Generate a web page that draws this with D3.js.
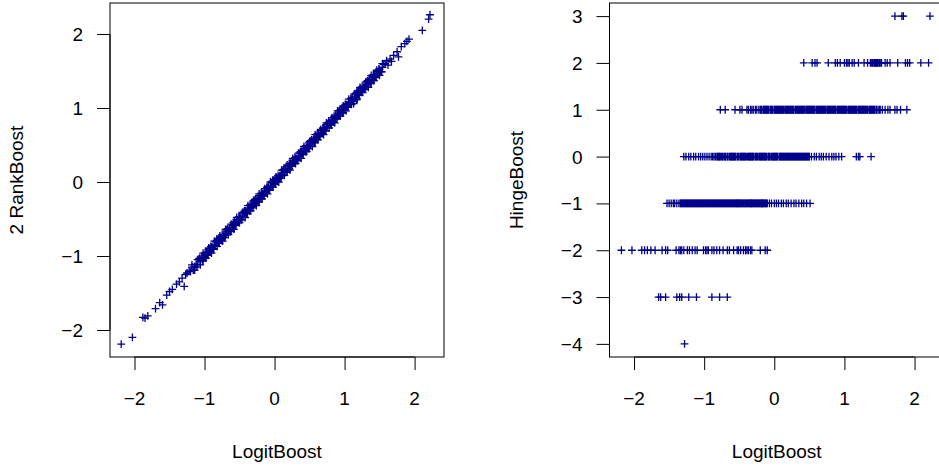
<!DOCTYPE html>
<html lang="en">
<head>
<meta charset="utf-8">
<script src="https://d3js.org/d3.v7.min.js"></script>
<style>
  body { margin: 0; background: #fff; }
  text { font-family: "Liberation Sans", Arial, Helvetica, sans-serif; font-size: 19px; fill: #000; }
  .pt { stroke: darkblue; stroke-width: 1.3; fill: none; }
  .frame { fill: none; stroke: #000; stroke-width: 1; }
  .tick line, .axisline { stroke: #000; stroke-width: 1; }
</style>
</head>
<body>
<svg id="chart" width="939" height="470"></svg>
<script>
// ---- left panel: LogitBoost vs 2 RankBoost ----
const logitLeft = [
  -2.19, -2.03, -1.88, -1.85, -1.81, -1.70, -1.64, -1.60, -1.54, -1.50, -1.46, -1.40, -1.36, -1.29, -1.32, -1.27, -1.25,
  -1.22, -1.20, -1.18, -1.16, -1.14, -1.12, -1.10, -1.08, -1.06, -1.04, -1.02, -1.00, -0.98, -0.96, -0.94, -0.92,
  -0.90, -0.88, -0.86, -0.84, -0.82, -0.80, -0.78, -0.76, -0.74, -0.72, -0.70, -0.68, -0.66, -0.64, -0.62, -0.60,
  -0.58, -0.56, -0.54, -0.52, -0.50, -0.48, -0.46, -0.44, -0.42, -0.40, -0.38, -0.36, -0.34, -0.32, -0.30, -0.28,
  -0.26, -0.24, -0.22, -0.20, -0.18, -0.16, -0.14, -0.12, -0.10, -0.08, -0.06, -0.04, -0.02, 0.00, 0.02, 0.04,
  0.06, 0.08, 0.10, 0.12, 0.14, 0.16, 0.18, 0.20, 0.22, 0.24, 0.26, 0.28, 0.30, 0.32, 0.34, 0.36,
  0.38, 0.40, 0.42, 0.44, 0.46, 0.48, 0.50, 0.52, 0.54, 0.56, 0.58, 0.60, 0.62, 0.64, 0.66, 0.68,
  0.70, 0.72, 0.74, 0.76, 0.78, 0.80, 0.82, 0.84, 0.86, 0.88, 0.90, 0.92, 0.94, 0.96, 0.98, 1.00,
  1.02, 1.04, 1.06, 1.08, 1.10, 1.12, 1.14, 1.16, 1.18, 1.20, 1.22, 1.24, 1.26, 1.28, 1.30, 1.32,
  1.34, 1.36, 1.38, 1.40, 1.42, 1.44, 1.46, 1.48, 1.50, 1.52, 1.54, 1.56, 1.58,
  -0.99, -0.93, -0.87, -0.81, -0.75, -0.69, -0.63, -0.57, -0.51, -0.45, -0.39, -0.33, -0.27, -0.21, -0.15, -0.09,
  -0.03, 0.03, 0.09, 0.15, 0.21, 0.27, 0.33, 0.39, 0.45, 0.51, 0.57, 0.63, 0.69, 0.75, 0.81, 0.87,
  0.93, 0.99, 1.05, 1.11, 1.17, 1.23, 1.29, 1.35,
  -1.11, -1.07, -1.03, -0.99, -0.95, -0.91, -0.87, -0.83, -0.79, -0.75, -0.71, -0.67, -0.63, -0.59, -0.55, -0.51,
  -0.47, -0.43, -0.39, -0.35, -0.31, -0.27, -0.23, -0.19, -0.15, -0.11, -0.07, -0.03, 0.01, 0.05, 0.09, 0.13,
  0.17, 0.21, 0.25, 0.29, 0.33, 0.37, 0.41, 0.45, 0.49, 0.53, 0.57, 0.61, 0.65, 0.69, 0.73, 0.77,
  0.81, 0.85, 0.89, 0.93, 0.97, 1.01, 1.05, 1.09, 1.13, 1.17, 1.21, 1.25, 1.29, 1.33, 1.37, 1.41,
  1.45, 1.49, 1.53,
  -1.18, -1.14, -1.10, -1.06, -1.02, -0.98, -0.94, -0.90, -0.86, -0.82, -0.78, -0.74, -0.70, -0.66, -0.62, -0.58,
  -0.54, -0.50, -0.46, -0.42, -0.38, -0.34, -0.30, -0.26, -0.22, -0.18, -0.14, -0.10, -0.06, -0.02, 0.02, 0.06,
  0.10, 0.14, 0.18, 0.22, 0.26, 0.30, 0.34, 0.38, 0.42, 0.46, 0.50, 0.54, 0.58, 0.62, 0.66, 0.70,
  0.74, 0.78, 0.82, 0.86, 0.90, 0.94, 0.98, 1.02, 1.06, 1.10, 1.14, 1.18, 1.22, 1.26, 1.30, 1.34,
  1.38, 1.42, 1.46, 1.50, 1.54,
  -1.05, -1.01, -0.97, -0.93, -0.89, -0.85, -0.81, -0.77, -0.73, -0.69, -0.65, -0.61, -0.57, -0.53, -0.49, -0.45,
  -0.41, -0.37, -0.33, -0.29, -0.25, -0.21, -0.17, -0.13, -0.09, -0.05, -0.01, 0.03, 0.07, 0.11, 0.15, 0.19,
  0.23, 0.27, 0.31, 0.35, 0.39, 0.43, 0.47, 0.51, 0.55, 0.59, 0.63, 0.67, 0.71, 0.75, 0.79, 0.83,
  0.87, 0.91, 0.95, 0.99, 1.03, 1.07, 1.11, 1.15, 1.19, 1.23, 1.27, 1.31, 1.35, 1.39, 1.43, 1.47,
  1.13, 1.17, 1.41, 1.60, 1.62, 1.65, 1.67, 1.70, 1.75, 1.77, 1.81, 1.86, 1.92, 1.89, 2.11, 2.20, 2.22
];
const rankBoost = [
  -2.19, -2.10, -1.83, -1.84, -1.81, -1.71, -1.63, -1.66, -1.53, -1.48, -1.45, -1.38, -1.35, -1.41, -1.30, -1.25, -1.23,
  -1.20, -1.21, -1.15, -1.19, -1.14, -1.11, -1.12, -1.04, -1.07, -1.02, -1.06, -0.99, -0.98, -0.98, -0.91, -0.93,
  -0.88, -0.91, -0.85, -0.81, -0.80, -0.81, -0.75, -0.79, -0.74, -0.71, -0.72, -0.64, -0.67, -0.62, -0.66, -0.59,
  -0.58, -0.58, -0.51, -0.53, -0.48, -0.51, -0.45, -0.41, -0.40, -0.41, -0.35, -0.39, -0.34, -0.31, -0.32, -0.24,
  -0.27, -0.22, -0.26, -0.19, -0.18, -0.18, -0.11, -0.13, -0.08, -0.11, -0.05, -0.01, 0.00, -0.01, 0.05, 0.01,
  0.06, 0.09, 0.08, 0.16, 0.13, 0.18, 0.14, 0.21, 0.22, 0.22, 0.29, 0.27, 0.32, 0.29, 0.35, 0.39,
  0.40, 0.39, 0.45, 0.41, 0.46, 0.49, 0.48, 0.56, 0.53, 0.58, 0.54, 0.61, 0.62, 0.62, 0.69, 0.67,
  0.72, 0.69, 0.75, 0.79, 0.80, 0.79, 0.85, 0.81, 0.86, 0.89, 0.88, 0.96, 0.93, 0.98, 0.94, 1.01,
  1.02, 1.02, 1.09, 1.07, 1.12, 1.09, 1.15, 1.19, 1.20, 1.19, 1.25, 1.21, 1.26, 1.29, 1.28, 1.36,
  1.33, 1.38, 1.34, 1.41, 1.42, 1.42, 1.49, 1.47, 1.52, 1.49, 1.55, 1.59, 1.60,
  -1.02, -0.90, -0.90, -0.78, -0.77, -0.66, -0.66, -0.54, -0.53, -0.42, -0.42, -0.30, -0.29, -0.18, -0.17, -0.06,
  -0.05, 0.06, 0.07, 0.18, 0.18, 0.30, 0.31, 0.42, 0.42, 0.54, 0.55, 0.66, 0.66, 0.78, 0.79, 0.90,
  0.90, 1.02, 1.03, 1.14, 1.14, 1.26, 1.27, 1.38,
  -1.15, -1.03, -1.07, -0.95, -0.99, -0.87, -0.91, -0.79, -0.83, -0.71, -0.75, -0.63, -0.67, -0.55, -0.59, -0.47,
  -0.51, -0.39, -0.43, -0.31, -0.35, -0.23, -0.27, -0.15, -0.19, -0.07, -0.11, 0.01, -0.03, 0.09, 0.05, 0.17,
  0.13, 0.25, 0.21, 0.33, 0.29, 0.41, 0.37, 0.49, 0.45, 0.57, 0.53, 0.65, 0.61, 0.73, 0.69, 0.81,
  0.77, 0.89, 0.85, 0.97, 0.93, 1.05, 1.01, 1.13, 1.09, 1.21, 1.17, 1.29, 1.25, 1.37, 1.33, 1.45,
  1.41, 1.53, 1.49,
  -1.12, -1.19, -1.05, -1.12, -0.96, -1.03, -0.89, -0.96, -0.80, -0.87, -0.73, -0.80, -0.64, -0.71, -0.57, -0.64,
  -0.48, -0.55, -0.41, -0.48, -0.32, -0.39, -0.25, -0.32, -0.16, -0.23, -0.09, -0.16, 0.00, -0.07, 0.07, 0.00,
  0.16, 0.09, 0.23, 0.16, 0.32, 0.25, 0.39, 0.32, 0.48, 0.41, 0.55, 0.48, 0.64, 0.57, 0.71, 0.64,
  0.80, 0.73, 0.87, 0.80, 0.96, 0.89, 1.03, 0.96, 1.12, 1.05, 1.19, 1.12, 1.28, 1.21, 1.35, 1.28,
  1.44, 1.37, 1.51, 1.44, 1.60,
  -1.04, -1.02, -0.96, -0.94, -0.88, -0.86, -0.80, -0.78, -0.72, -0.70, -0.64, -0.62, -0.56, -0.54, -0.48, -0.46,
  -0.40, -0.38, -0.32, -0.30, -0.24, -0.22, -0.16, -0.14, -0.08, -0.06, 0.00, 0.02, 0.08, 0.10, 0.16, 0.18,
  0.24, 0.26, 0.32, 0.34, 0.40, 0.42, 0.48, 0.50, 0.56, 0.58, 0.64, 0.66, 0.72, 0.74, 0.80, 0.82,
  0.88, 0.90, 0.96, 0.98, 1.04, 1.06, 1.12, 1.14, 1.20, 1.22, 1.28, 1.30, 1.36, 1.38, 1.44, 1.46,
  1.06, 1.11, 1.38, 1.64, 1.58, 1.66, 1.63, 1.71, 1.76, 1.69, 1.83, 1.87, 1.93, 1.90, 2.05, 2.20, 2.26
];

// ---- right panel: LogitBoost values grouped by HingeBoost level ----
const hingeLevels = [3, 2, 1, 0, -1, -2, -3, -4];
const hingePlus3 = [1.72, 1.82, 1.84, 2.22];
const hingePlus2 = [0.42, 0.54, 0.58, 0.61, 0.77, 0.87, 0.90, 0.94, 1.00, 1.03, 1.05, 1.07, 1.11, 1.14, 1.20,
  1.28, 1.33, 1.37, 1.39, 1.40, 1.42, 1.43, 1.44, 1.45, 1.46, 1.47, 1.49, 1.50, 1.51, 1.53, 1.58, 1.61, 1.65,
  1.76, 1.87, 1.90, 1.93, 2.09, 2.20];
const hingePlus1 = [-0.77, -0.70, -0.56, -0.49, -0.46, -0.39, -0.37, -0.34, -0.32, -0.30, -0.27, -0.25, -0.22,
  -0.20, -0.18, -0.15, -0.13, -0.10, -0.08, -0.05, -0.03, 0.00, 0.02, 0.05, 0.07, 0.10, 0.12, 0.15, 0.17, 0.20,
  0.22, 0.25, 0.27, 0.30, 0.32, 0.35, 0.37, 0.40, 0.42, 0.45, 0.47, 0.50, 0.52, 0.55, 0.57, 0.60, 0.62, 0.65,
  0.67, 0.70, 0.72, 0.75, 0.77, 0.80, 0.82, 0.85, 0.87, 0.90, 0.92, 0.95, 0.97, 1.00, 1.02, 1.05, 1.07, 1.10,
  1.12, 1.15, 1.17, 1.20, 1.22, 1.25, 1.27, 1.30, 1.32, 1.35, 1.37, 1.40, 1.42, 1.45, 1.48, 1.51, 1.54,
  -0.11, 0.06, 0.21, 0.36, 0.51, 0.66, 0.81, 0.96, 1.11, 1.26, 1.41,
  -0.19, -0.16, -0.14, -0.12, -0.09, -0.06, -0.04, -0.02, 0.01, 0.03, 0.04, 0.08, 0.09, 0.11, 0.13, 0.16,
  0.18, 0.19, 0.23, 0.24, 0.26, 0.28, 0.31, 0.33, 0.34, 0.38, 0.39, 0.41, 0.43, 0.46, 0.48, 0.49, 0.53, 0.54,
  0.56, 0.58, 0.61, 0.63, 0.64, 0.68, 0.69, 0.71, 0.73, 0.76, 0.78, 0.79, 0.83, 0.84, 0.86, 0.88, 0.91, 0.93,
  0.94, 0.98, 0.99, 1.01, 1.03, 1.06, 1.08, 1.09, 1.13, 1.14, 1.16, 1.18, 1.21, 1.23, 1.24, 1.28, 1.29, 1.31,
  1.33, 1.36, 1.38, 1.39, 1.43, 1.46, 1.50,
  1.58, 1.62, 1.65, 1.72, 1.75, 1.80, 1.89];
const hingeZero = [-1.29, -1.26, -1.22, -1.19, -1.15, -1.12, -1.08, -1.05, -1.02, -0.99, -0.96, -0.93, -0.90,
  -0.88, -0.86, -0.84, -0.81, -0.79, -0.78, -0.75, -0.73, -0.70, -0.69, -0.66, -0.64, -0.62, -0.59, -0.57,
  -0.56, -0.53, -0.51, -0.48, -0.47, -0.44, -0.42, -0.40, -0.37, -0.35, -0.34, -0.31, -0.29, -0.26, -0.25,
  -0.22, -0.20, -0.18, -0.15, -0.13, -0.12, -0.09, -0.07, -0.04, -0.03, 0.00, 0.02, 0.04, 0.07, 0.09, 0.10,
  0.13, 0.15, 0.18, 0.19, 0.22, 0.24, 0.26, 0.29, 0.31, 0.32, 0.35, 0.37, 0.40, 0.41, 0.44, 0.46, 0.48, 0.50,
  -0.60, -0.45, -0.32, -0.17, -0.01, 0.12, 0.27, 0.39,
  -0.83, -0.80, -0.77, -0.74, -0.71, -0.67, -0.63, -0.61, -0.58, -0.55, -0.52, -0.49, -0.46, -0.43, -0.41,
  -0.38, -0.36, -0.33, -0.30, -0.27, -0.24, -0.21, -0.19, -0.16, -0.14, -0.11, -0.08, -0.06, -0.02, 0.01,
  0.03, 0.05, 0.08, 0.11, 0.14, 0.16, 0.17, 0.20, 0.21, 0.23, 0.25, 0.28, 0.30, 0.33, 0.34, 0.36, 0.38,
  0.42, 0.43, 0.45, 0.47, 0.49,
  0.53, 0.57, 0.60, 0.64, 0.67, 0.70, 0.74, 0.78, 0.82, 0.85, 0.88, 0.92, 0.96, 1.17, 1.20, 1.22, 1.38];
const hingeMinus1 = [-1.53, -1.50, -1.47, -1.44, -1.42, -1.39, -1.36, -1.34, -1.31, -1.29, -1.28, -1.25, -1.23,
  -1.20, -1.19, -1.16, -1.14, -1.12, -1.09, -1.07, -1.06, -1.03, -1.01, -0.98, -0.97, -0.94, -0.92, -0.90,
  -0.87, -0.85, -0.84, -0.81, -0.79, -0.76, -0.75, -0.72, -0.70, -0.68, -0.65, -0.63, -0.62, -0.59, -0.57,
  -0.54, -0.53, -0.50, -0.48, -0.46, -0.43, -0.41, -0.40, -0.37, -0.35, -0.32, -0.31, -0.28, -0.26, -0.24,
  -0.21, -0.19, -0.18, -0.15, -0.13, -0.10, -1.22, -1.05, -0.89, -0.67, -0.52, -0.33, -0.17,
  -1.33, -1.32, -1.30, -1.27, -1.26, -1.24, -1.21, -1.18, -1.17, -1.15, -1.13, -1.11, -1.10, -1.08, -1.04,
  -1.02, -1.00, -0.99, -0.96, -0.95, -0.93, -0.91, -0.88, -0.86, -0.83, -0.82, -0.80, -0.78, -0.77, -0.74,
  -0.73, -0.71, -0.69, -0.66, -0.64, -0.61, -0.60, -0.58, -0.56, -0.55, -0.52, -0.51, -0.49, -0.47, -0.45,
  -0.44, -0.42, -0.39, -0.38, -0.36, -0.34, -0.33, -0.30, -0.29, -0.27, -0.25, -0.23, -0.22, -0.20, -0.17,
  -0.16, -0.14, -0.12, -0.11,
  -0.07, -0.04, 0.00, 0.03, 0.06, 0.10, 0.13, 0.17, 0.20, 0.24, 0.28, 0.31, 0.35, 0.39, 0.42, 0.46, 0.51];
const hingeMinus2 = [-2.18, -2.03, -1.89, -1.85, -1.81, -1.76, -1.70, -1.60, -1.55, -1.52, -1.40, -1.36, -1.34,
  -1.32, -1.29, -1.24, -1.21, -1.17, -1.13, -1.10, -1.01, -0.98, -0.96, -0.94, -0.89, -0.86, -0.82, -0.78,
  -0.73, -0.67, -0.64, -0.58, -0.53, -0.51, -0.48, -0.44, -0.41, -0.39, -0.37, -0.34, -0.32, -0.20, -0.13, -0.10];
const hingeMinus3 = [-1.65, -1.62, -1.55, -1.39, -1.35, -1.32, -1.22, -1.11, -0.89, -0.78, -0.67];
const hingeMinus4 = [-1.28];
const hingeRows = [hingePlus3, hingePlus2, hingePlus1, hingeZero, hingeMinus1, hingeMinus2, hingeMinus3, hingeMinus4];

const logitTicks = [-2, -1, 0, 1, 2];
const rankTicks = [-2, -1, 0, 1, 2];
const hingeTicks = [-4, -3, -2, -1, 0, 1, 2, 3];

// build point tables for the two panels
const leftPoints = logitLeft.map((v, i) => ({ x: v, y: rankBoost[i] }));
const rightPoints = [];
hingeRows.forEach((row, k) => row.forEach(v => rightPoints.push({ x: v, y: hingeLevels[k] })));

const svg = d3.select('#chart');
svg.append('rect').attr('width', 939).attr('height', 470).attr('fill', '#fff');

const fmt = d3.format('d');
const plus = 'M-3.9,0H3.9M0,-3.9V3.9';

function drawPanel(p) {
    const x = d3.scaleLinear().domain(p.xDomain).range([p.left, p.right]);
    const y = d3.scaleLinear().domain(p.yDomain).range([p.bottom, p.top]);
    const g = svg.append('g');

    // points
    g.selectAll('path.pt')
        .data(p.points)
        .enter().append('path')
        .attr('class', 'pt')
        .attr('d', plus)
        .attr('transform', d => `translate(${x(d.x)},${y(d.y)})`);

    // box
    g.append('rect')
        .attr('class', 'frame')
        .attr('x', p.left).attr('y', p.top)
        .attr('width', p.right - p.left).attr('height', p.bottom - p.top);

    // x axis
    const xa = g.append('g')
        .attr('transform', `translate(0,${p.bottom})`)
        .call(d3.axisBottom(x).tickValues(p.xTicks).tickSize(13).tickFormat(''));
    xa.select('.domain').remove();
    xa.append('line').attr('class', 'axisline')
        .attr('x1', x(p.xTicks[0])).attr('x2', x(p.xTicks[p.xTicks.length - 1]));

    // y axis
    const ya = g.append('g')
        .attr('transform', `translate(${p.left},0)`)
        .call(d3.axisLeft(y).tickValues(p.yTicks).tickSize(13).tickFormat(''));
    ya.select('.domain').remove();
    ya.append('line').attr('class', 'axisline')
        .attr('y1', y(p.yTicks[0])).attr('y2', y(p.yTicks[p.yTicks.length - 1]));

    // tick labels
    g.selectAll('text.xl')
        .data(p.xTicks)
        .enter().append('text')
        .attr('x', d => x(d)).attr('y', p.bottom + 48)
        .attr('text-anchor', 'middle')
        .text(d => fmt(d));
    g.selectAll('text.yl')
        .data(p.yTicks)
        .enter().append('text')
        .attr('x', p.left - 27).attr('y', d => y(d) + 7)
        .attr('text-anchor', 'end')
        .text(d => fmt(d));

    // titles
    g.append('text')
        .attr('x', (p.left + p.right) / 2).attr('y', p.bottom + 101)
        .attr('text-anchor', 'middle')
        .text(p.xTitle);
    g.append('text')
        .attr('transform', `translate(${p.left - 87},${(p.top + p.bottom) / 2}) rotate(-90)`)
        .attr('text-anchor', 'middle')
        .text(p.yTitle);
}

drawPanel({
    left: 110, right: 444, top: 3, bottom: 357,
    xDomain: [-2.35, 2.42], yDomain: [-2.365, 2.419],
    xTicks: logitTicks, yTicks: rankTicks,
    points: leftPoints,
    xTitle: 'LogitBoost', yTitle: '2 RankBoost'
});

drawPanel({
    left: 609.5, right: 944, top: 3, bottom: 357,
    xDomain: [-2.35, 2.42], yDomain: [-4.28, 3.28],
    xTicks: logitTicks, yTicks: hingeTicks,
    points: rightPoints,
    xTitle: 'LogitBoost', yTitle: 'HingeBoost'
});
</script>
</body>
</html>
